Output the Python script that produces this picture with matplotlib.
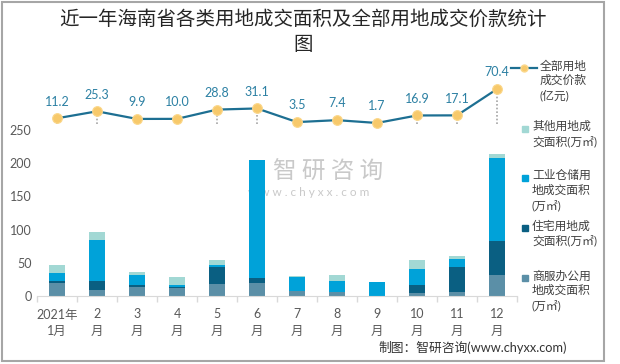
import numpy as np
import matplotlib.pyplot as plt
from matplotlib.patches import Rectangle
from matplotlib.lines import Line2D

plt.rcParams['font.family'] = ['Lato', 'Noto Sans CJK SC', 'DejaVu Sans']

months = ['2021年\n1月', '2\n月', '3\n月', '4\n月', '5\n月', '6\n月',
          '7\n月', '8\n月', '9\n月', '10\n月', '11\n月', '12\n月']
# 商服办公 / 住宅 / 工业仓储 / 其他 用地成交面积 (万㎡)
commercial = [20, 9, 14, 12, 18, 20, 7, 6, 0.5, 4, 6, 32]
residential = [3, 14, 3, 2, 26, 7, 0, 0, 0, 12, 37, 51]
industrial = [12, 62, 14, 2, 2, 177, 22, 16, 20, 24, 12, 125]
other = [11, 11, 5, 12, 8, 1, 1, 9, 0.5, 14, 5, 6]
# 全部用地成交价款 (亿元)
price = [11.2, 25.3, 9.9, 10.0, 28.8, 31.1, 3.5, 7.4, 1.7, 16.9, 17.1, 70.4]

c_com = '#5b8fa7'
c_res = '#0a5f82'
c_ind = '#00a2d9'
c_oth = '#a2d8d4'
c_line = '#1d6f92'
c_mark = '#f7c96b'
c_lab = '#2c80a3'
c_txt = '#404040'

fig = plt.figure(figsize=(6.2, 3.64), dpi=100)
ax = fig.add_axes([37/620, 1 - 296/364, 480/620, (296 - 80)/364])

x = np.arange(len(months))
w = 0.4
b1 = np.array(commercial)
b2 = b1 + np.array(residential)
b3 = b2 + np.array(industrial)
ax.bar(x, commercial, w, color=c_com, zorder=2)
ax.bar(x, residential, w, bottom=b1, color=c_res, zorder=2)
ax.bar(x, industrial, w, bottom=b2, color=c_ind, zorder=2)
ax.bar(x, other, w, bottom=b3, color=c_oth, zorder=2)

ax.set_xlim(-0.5, 11.5)
ax.set_ylim(0, 325)
ax.set_yticks([0, 50, 100, 150, 200, 250])
ax.tick_params(axis='y', length=0, labelsize=9, labelcolor='#595959', pad=4)
ax.set_xticks(x)
ax.set_xticklabels(months, fontsize=9, color='#595959', linespacing=1.45)
ax.tick_params(axis='x', which='major', length=0, pad=9)
ax.set_xticks(np.arange(-0.5, 12, 1), minor=True)
ax.tick_params(axis='x', which='minor', length=4, color='#d9d9d9', width=1)
for s in ['top', 'right', 'left']:
    ax.spines[s].set_visible(False)
ax.spines['bottom'].set_color('#d9d9d9')

# watermark
ax.text(0.607, 0.574, '智 研 咨 询', transform=ax.transAxes, fontsize=17,
        color='#c9c9c9', ha='center', va='center', zorder=0.5,
        family='Noto Sans CJK SC')
ax.text(0.567, 0.477, 'w w w . c h y x x . c o m', transform=ax.transAxes,
        fontsize=8.5, color='#c9c9c9', ha='center', va='center', zorder=0.5)

ax2 = ax.twinx()
ax2.set_ylim(-348.6, 88.7)
ax2.set_axis_off()
ax2.vlines(x, 0, price, colors='#a6a6a6', linestyles=(0, (1, 1.2)), lw=1.2, zorder=1)
ax2.plot(x, price, color=c_line, lw=1.6, zorder=2)
ax2.plot(x, price, 'o', ms=7, mfc=c_mark, mec='#fbd88c', mew=0.8, zorder=3)
for xi, v in zip(x, price):
    ax2.annotate(f'{v:.1f}', (xi, v), xytext=(0, 12), textcoords='offset points',
                 ha='center', va='center', fontsize=9, color=c_lab)

# title
fig.text(0.489, 1 - 19/364, '近一年海南省各类用地成交面积及全部用地成交价款统计',
         ha='center', va='center', fontsize=14, color='#262626',
         family='Noto Sans CJK SC')
fig.text(0.489, 1 - 45/364, '图', ha='center', va='center', fontsize=14,
         color='#262626', family='Noto Sans CJK SC')

# legend
def ftx(px):
    return px / 620

def fty(py):
    return 1 - py / 364

fig.add_artist(Line2D([ftx(511), ftx(537)], [fty(67.7), fty(67.7)],
                      color=c_line, lw=1.6))
fig.add_artist(Line2D([ftx(524)], [fty(67.7)], marker='o', ms=5,
                      mfc=c_mark, mec='#fbd88c', lw=0))
fig.text(ftx(540), fty(60), '全部用地\n成交价款\n(亿元)', ha='left', va='top',
         fontsize=8.5, color=c_txt, linespacing=1.35)

entries = [
    (c_oth, 129, '其他用地成\n交面积(万㎡)'),
    (c_ind, 178, '工业仓储用\n地成交面积\n(万㎡)'),
    (c_res, 228, '住宅用地成\n交面积(万㎡)'),
    (c_com, 278, '商服办公用\n地成交面积\n(万㎡)'),
]
for col, py, lab in entries:
    fig.add_artist(Rectangle((ftx(522), fty(py + 3)), 6/620, 6/364,
                             color=col, transform=fig.transFigure))
    fig.text(ftx(532), fty(py - 8), lab, ha='left', va='top', fontsize=8.5,
             color=c_txt, linespacing=1.35)

fig.text(ftx(567), fty(347), '制图：智研咨询(www.chyxx.com)', ha='right',
         va='center', fontsize=9.2, color='#333333')

fig.add_artist(Rectangle((1.5/620, 1 - 361/364), 602/620, 359/364, fill=False,
                         ec='#a6a6a6', lw=1.5, transform=fig.transFigure))

fig.savefig('out.png', dpi=100)
